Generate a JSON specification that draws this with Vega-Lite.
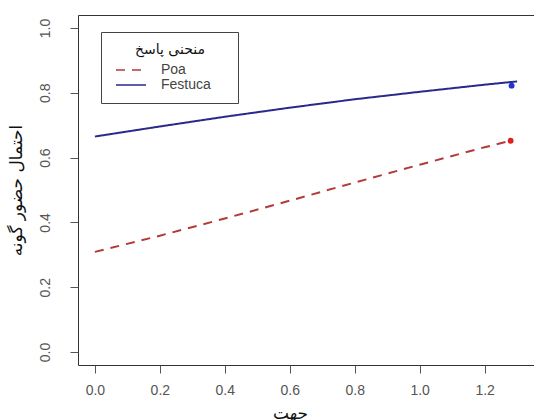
{
  "$schema": "https://vega.github.io/schema/vega-lite/v6.json",
  "autosize": "none",
  "width": 456,
  "height": 350,
  "padding": {"left": 78, "top": 15, "right": 0, "bottom": 55},
  "background": "white",
  "config": {
    "view": {"stroke": "#333", "strokeWidth": 1},
    "axis": {
      "domain": false,
      "grid": false,
      "tickColor": "#555",
      "labelColor": "#555",
      "labelFont": "Liberation Sans",
      "labelFontSize": 14,
      "titleFont": "DejaVu Sans",
      "titleFontSize": 17,
      "titleFontWeight": "normal",
      "titleColor": "#111"
    }
  },
  "datasets": {
    "curves": [
      {"x": 0.0, "y": 0.309, "series": "Poa"},
      {"x": 0.2, "y": 0.359, "series": "Poa"},
      {"x": 0.4, "y": 0.412, "series": "Poa"},
      {"x": 0.6, "y": 0.467, "series": "Poa"},
      {"x": 0.8, "y": 0.523, "series": "Poa"},
      {"x": 1.0, "y": 0.578, "series": "Poa"},
      {"x": 1.2, "y": 0.632, "series": "Poa"},
      {"x": 1.28, "y": 0.652, "series": "Poa"},
      {"x": 0.0, "y": 0.665, "series": "Festuca"},
      {"x": 0.2, "y": 0.696, "series": "Festuca"},
      {"x": 0.4, "y": 0.726, "series": "Festuca"},
      {"x": 0.6, "y": 0.754, "series": "Festuca"},
      {"x": 0.8, "y": 0.780, "series": "Festuca"},
      {"x": 1.0, "y": 0.803, "series": "Festuca"},
      {"x": 1.2, "y": 0.825, "series": "Festuca"},
      {"x": 1.3, "y": 0.835, "series": "Festuca"}
    ],
    "points": [
      {"x": 1.28, "y": 0.652, "series": "Poa"},
      {"x": 1.283, "y": 0.822, "series": "Festuca"}
    ]
  },
  "layer": [
    {
      "data": {"name": "curves"},
      "mark": {"type": "line", "strokeWidth": 2},
      "encoding": {
        "x": {
          "field": "x", "type": "quantitative",
          "scale": {"domain": [-0.052, 1.352], "nice": false, "zero": false},
          "axis": {
            "title": "جهت",
            "values": [0, 0.1, 0.2, 0.3, 0.4, 0.5, 0.6, 0.7, 0.8, 0.9, 1.0, 1.1, 1.2, 1.3],
            "labelExpr": "round(datum.value*10) % 2 === 0 ? format(datum.value, '.1f') : ''",
            "tickSize": {"condition": {"test": "round(datum.value*10) % 2 === 0", "value": 8}, "value": 4},
            "labelPadding": 10,
            "titleX": 212,
            "titleY": 48,
            "titleBaseline": "middle",
            "titleAlign": "center"
          }
        },
        "y": {
          "field": "y", "type": "quantitative",
          "scale": {"domain": [-0.04, 1.04], "nice": false, "zero": false},
          "axis": {
            "title": "احتمال حضور گونه",
            "values": [0, 0.1, 0.2, 0.3, 0.4, 0.5, 0.6, 0.7, 0.8, 0.9, 1.0],
            "labelExpr": "round(datum.value*10) % 2 === 0 ? format(datum.value, '.1f') : ''",
            "tickSize": {"condition": {"test": "round(datum.value*10) % 2 === 0", "value": 8}, "value": 4},
            "labelAngle": 270,
            "labelAlign": "center",
            "labelBaseline": "middle",
            "labelPadding": 25,
            "titleX": -62,
            "titleY": 175,
            "titleAngle": 270,
            "titleAlign": "center",
            "titleBaseline": "middle"
          }
        },
        "color": {
          "field": "series", "type": "nominal",
          "scale": {"domain": ["Poa", "Festuca"], "range": ["#b23a3a", "#2a2a8c"]},
          "legend": {
            "title": "منحنی پاسخ",
            "orient": "none",
            "legendX": 23,
            "legendY": 17,
            "strokeColor": "#444",
            "padding": 11,
            "titleFont": "DejaVu Sans",
            "titleFontSize": 14,
            "titleFontWeight": "normal",
            "titleColor": "#111",
            "titleAnchor": "middle",
            "titlePadding": 6,
            "labelFont": "Liberation Sans",
            "labelFontSize": 14,
            "labelColor": "#444",
            "labelOffset": 23,
            "symbolType": "M-3,0H3M18.6,0L18.6,0",
            "symbolSize": 100,
            "symbolOffset": 12,
            "symbolStrokeWidth": 1.5,
            "rowPadding": 1
          }
        },
        "strokeDash": {
          "field": "series", "type": "nominal",
          "scale": {"domain": ["Poa", "Festuca"], "range": [[9, 7], [1, 0]]},
          "legend": {"title": "منحنی پاسخ"}
        }
      }
    },
    {
      "data": {"name": "points"},
      "transform": [{"filter": "datum.series === 'Poa'"}],
      "mark": {"type": "point", "filled": true, "color": "#e02020", "size": 35, "opacity": 1},
      "encoding": {
        "x": {"field": "x", "type": "quantitative"},
        "y": {"field": "y", "type": "quantitative"}
      }
    },
    {
      "data": {"name": "points"},
      "transform": [{"filter": "datum.series === 'Festuca'"}],
      "mark": {"type": "point", "filled": true, "color": "#2035d0", "size": 35, "opacity": 1},
      "encoding": {
        "x": {"field": "x", "type": "quantitative"},
        "y": {"field": "y", "type": "quantitative"}
      }
    }
  ]
}
